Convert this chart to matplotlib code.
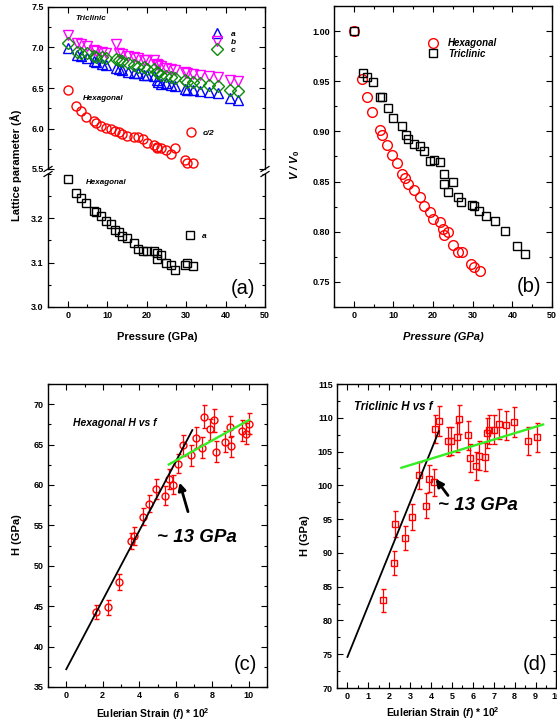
import matplotlib
matplotlib.use('Agg')
import matplotlib.pyplot as plt
from matplotlib.ticker import MultipleLocator
from matplotlib.lines import Line2D

plt.rcParams['font.family'] = ['Liberation Sans', 'DejaVu Sans']
plt.rcParams['font.weight'] = 'bold'
plt.rcParams['mathtext.fontset'] = 'custom'
plt.rcParams['mathtext.rm'] = 'Liberation Sans:bold'
plt.rcParams['mathtext.it'] = 'Liberation Sans:italic:bold'
plt.rcParams['mathtext.bf'] = 'Liberation Sans:bold'

# ---------------- data ----------------
# Triclinic (panel a, b)
tri_P = [0, 2.26, 3.44, 4.87, 6.54, 7.21, 8.64, 9.81, 12.16, 13.08, 13.76, 15.18, 16.78, 17.79,
         19.3, 20.13, 21.8, 22.65, 22.8, 23.65, 25.0, 26.25, 27.1, 29.8, 30.3, 31.7, 33.4, 35.7,
         38.1, 41.2, 43.2]
tri_a = [6.99, 6.91, 6.89, 6.87, 6.83, 6.82, 6.80, 6.78, 6.75, 6.73, 6.72, 6.70, 6.68, 6.68,
         6.66, 6.66, 6.65, 6.60, 6.57, 6.55, 6.56, 6.54, 6.52, 6.49, 6.48, 6.47, 6.46, 6.45,
         6.44, 6.38, 6.35]
tri_b = [7.15, 7.05, 7.04, 7.02, 6.97, 6.96, 6.95, 6.93, 7.04, 6.93, 6.92, 6.90, 6.88, 6.87,
         6.85, 6.84, 6.84, 6.80, 6.78, 6.77, 6.75, 6.73, 6.72, 6.70, 6.68, 6.67, 6.66, 6.65,
         6.63, 6.60, 6.59]
tri_c = [7.05, 6.95, 6.93, 6.93, 6.90, 6.88, 6.88, 6.87, 6.86, 6.85, 6.83, 6.81, 6.78, 6.76,
         6.76, 6.74, 6.73, 6.70, 6.68, 6.66, 6.65, 6.64, 6.62, 6.60, 6.58, 6.57, 6.56, 6.54,
         6.52, 6.48, 6.46]
tri_V = [1.000, 0.958, 0.9545, 0.949, 0.934, 0.934, 0.923, 0.9136, 0.9054, 0.896, 0.892, 0.8875,
         0.885, 0.880, 0.8705, 0.872, 0.8695, 0.858, 0.8476, 0.840, 0.850, 0.8347, 0.830, 0.8267,
         0.826, 0.8204, 0.8154, 0.8108, 0.801, 0.786, 0.7775]

# Hexagonal (panel a, b)
hex_P = [0, 2.18, 3.36, 4.7, 6.54, 7.21, 8.47, 9.73, 10.9, 12.08, 12.9, 13.67, 15.1, 16.7, 17.7,
         19.2, 20.04, 21.8, 22.5, 22.65, 23.75, 25.0, 26.2, 27.2, 29.6, 30.3, 31.8]
hex_c2 = [6.478, 6.272, 6.21, 6.148, 6.09, 6.07, 6.028, 6.004, 5.99, 5.967, 5.955, 5.938, 5.91,
          5.897, 5.897, 5.872, 5.815, 5.80, 5.77, 5.765, 5.76, 5.73, 5.69, 5.757, 5.61, 5.57, 5.57]
hex_a = [3.289, 3.258, 3.245, 3.234, 3.217, 3.2135, 3.2045, 3.1947, 3.188, 3.173, 3.169, 3.161,
         3.1556, 3.145, 3.130, 3.127, 3.127, 3.127, 3.121, 3.108, 3.117, 3.0985, 3.0955, 3.083,
         3.095, 3.0985, 3.093]
hex_V = [1.000, 0.9518, 0.9346, 0.919, 0.9017, 0.8967, 0.886, 0.8768, 0.869, 0.858, 0.8533, 0.8476,
         0.8416, 0.8347, 0.8254, 0.820, 0.813, 0.810, 0.803, 0.797, 0.7995, 0.787, 0.780, 0.780,
         0.7676, 0.765, 0.761]

# Panel c: hexagonal H vs f
c_f = [1.64, 2.3, 2.89, 3.53, 3.73, 4.19, 4.56, 4.91, 5.42, 5.62, 5.84, 6.12, 6.38, 6.84, 7.1,
       7.43, 7.54, 7.87, 8.09, 8.2, 8.7, 8.97, 9.0, 9.65, 9.83, 10.02]
c_H = [44.28, 44.85, 48.0, 53.1, 53.7, 56.1, 57.7, 59.5, 58.7, 60.75, 60.05, 62.66, 64.94, 63.7,
       65.86, 64.6, 68.47, 66.9, 68.0, 64.1, 65.36, 67.2, 64.8, 66.7, 66.35, 67.6]
c_err = [0.9, 0.9, 1.0, 1.0, 1.1, 1.1, 1.1, 1.2, 1.2, 1.2, 1.2, 1.2, 1.3, 1.3, 1.3, 1.3, 1.4,
         1.3, 1.4, 1.3, 1.3, 1.3, 1.3, 1.3, 1.3, 1.3]
c_fit1_x = [0, 6.91]
c_fit1_y = [37.2, 66.8]
c_fit2_x = [5.62, 10.02]
c_fit2_y = [62.54, 68.05]
c_arrow_tail = (6.67, 56.7)
c_arrow_tip = (6.21, 60.3)

# Panel d: triclinic H vs f
d_f = [1.70, 2.25, 2.28, 2.73, 3.11, 3.40, 3.78, 3.88, 4.13, 4.21, 4.40, 4.81, 4.96, 5.24, 5.33,
       5.77, 5.84, 6.15, 6.30, 6.57, 6.68, 6.76, 7.00, 7.25, 7.59, 7.99, 8.64, 9.06]
d_H = [83.0, 88.5, 94.3, 92.2, 95.3, 101.5, 97.0, 101.0, 100.45, 108.3, 109.55, 106.5, 106.6,
       107.1, 109.75, 107.4, 104.0, 102.9, 104.4, 104.2, 107.8, 108.26, 108.26, 109.05, 108.86,
       109.4, 106.53, 107.1]
d_err = [1.7, 1.8, 1.9, 1.8, 1.9, 2.0, 1.9, 2.0, 2.0, 2.1, 2.2, 2.1, 2.1, 2.1, 2.2, 2.1, 2.1, 2.1,
         2.1, 2.1, 2.2, 2.2, 2.2, 2.2, 2.2, 2.2, 2.1, 2.1]
d_fit1_x = [0, 4.37]
d_fit1_y = [74.6, 108.0]
d_fit2_x = [2.58, 9.36]
d_fit2_y = [102.6, 109.0]
d_arrow_tail = (4.81, 98.5)
d_arrow_tip = (4.22, 100.95)

# ---------------- figure ----------------
W, H = 557, 724
fig = plt.figure(figsize=(W / 100, H / 100), dpi=100)


def rect(l, t, r, b):
    return [l / W, 1 - b / H, (r - l) / W, (b - t) / H]


def fp(x, y):
    return (x / W, 1 - y / H)


def style(ax, top=True, bottom=True):
    for s in ax.spines.values():
        s.set_linewidth(1.0)
    ax.tick_params(which='both', direction='in', top=top, bottom=bottom, right=True,
                   labelsize=6.5, width=0.8, pad=3)
    ax.tick_params(which='major', length=4)
    ax.tick_params(which='minor', length=2)


BLUE = '#0000ff'
MAG = '#ff00ff'
GRN = '#0a8c0a'
RED = '#ff0000'

# ---- panel (a) ----
axT = fig.add_axes(rect(48, 7, 265, 169))
axL = fig.add_axes(rect(48, 174, 265, 307))
mk = dict(linestyle='none', mfc='none', mew=1.0)
la, = axT.plot(tri_P, tri_a, marker='^', mec=BLUE, ms=7.5, **mk)
lb, = axT.plot(tri_P, tri_b, marker='v', mec=MAG, ms=7.5, **mk)
lc, = axT.plot(tri_P, tri_c, marker='D', mec=GRN, ms=6, **mk)
lh, = axT.plot(hex_P, hex_c2, marker='o', mec=RED, ms=6.5, **mk)
lha, = axL.plot(hex_P, hex_a, marker='s', mec='k', ms=6, **mk)

axT.set_xlim(-5, 50)
axT.set_ylim(5.5, 7.5)
axL.set_xlim(-5, 50)
axL.set_ylim(3.0, 3.30)
axT.yaxis.set_major_locator(MultipleLocator(0.5))
axT.yaxis.set_minor_locator(MultipleLocator(0.25))
axT.yaxis.set_major_formatter(plt.FormatStrFormatter('%.1f'))
axL.yaxis.set_major_locator(MultipleLocator(0.1))
axL.yaxis.set_minor_locator(MultipleLocator(0.05))
axL.yaxis.set_major_formatter(plt.FormatStrFormatter('%.1f'))
for ax in (axT, axL):
    ax.xaxis.set_major_locator(MultipleLocator(10))
    ax.xaxis.set_minor_locator(MultipleLocator(5))
style(axT, top=True, bottom=False)
style(axL, top=False, bottom=True)
axT.tick_params(labelbottom=False)
axT.spines['bottom'].set_visible(False)
axL.spines['top'].set_visible(False)
axL.set_yticks([3.0, 3.1, 3.2])

# break marks
for bx in (48, 265):
    for by in (169, 174):
        fig.add_artist(Line2D([(bx - 4) / W, (bx + 4) / W], [1 - (by + 2.5) / H, 1 - (by - 2.5) / H],
                              transform=fig.transFigure, color='k', lw=0.9))

leg_kw = dict(frameon=False, borderpad=0, borderaxespad=0, handlelength=1.0,
              bbox_transform=fig.transFigure, loc='center left')
legA = axT.legend([la, lb, lc], ['a', 'b', 'c'], bbox_to_anchor=fp(212.8, 42),
                  prop=dict(size=6, style='italic', weight='bold'), handletextpad=1.2,
                  labelspacing=0.05, **leg_kw)
axT.add_artist(legA)
axT.legend([lh], ['c/2'], bbox_to_anchor=fp(186.8, 133),
           prop=dict(size=6, style='italic', weight='bold'), handletextpad=0.95, **leg_kw)
axL.legend([lha], ['a'], bbox_to_anchor=fp(185.8, 236),
           prop=dict(size=6, style='italic', weight='bold'), handletextpad=0.95, **leg_kw)

fig.text(*fp(75, 19), 'Triclinic', fontsize=5.8, style='italic', va='center')
fig.text(*fp(83, 98), 'Hexagonal', fontsize=5.8, style='italic', va='center')
fig.text(*fp(86, 182), 'Hexagonal', fontsize=5.8, style='italic', va='center')
fig.text(*fp(16, 165), 'Lattice parameter (Å)', rotation=90, ha='center', va='center', fontsize=8)
fig.text(*fp(157, 337), 'Pressure (GPa)', ha='center', va='center', fontsize=8)
fig.text(*fp(242.5, 288), '(a)', fontsize=14.5, weight='normal', ha='center', va='center')

# ---- panel (b) ----
axB = fig.add_axes(rect(334, 6, 552, 307))
lbh, = axB.plot(hex_P, hex_V, marker='o', mec=RED, ms=7, **mk)
lbt, = axB.plot(tri_P, tri_V, marker='s', mec='k', ms=5.5, **mk)
axB.set_xlim(-5, 50)
axB.set_ylim(0.725, 1.025)
axB.xaxis.set_major_locator(MultipleLocator(10))
axB.xaxis.set_minor_locator(MultipleLocator(5))
axB.yaxis.set_major_locator(MultipleLocator(0.05))
axB.yaxis.set_minor_locator(MultipleLocator(0.025))
axB.yaxis.set_major_formatter(plt.FormatStrFormatter('%.2f'))
style(axB)
axB.legend([lbh, lbt], ['Hexagonal', 'Triclinic'], bbox_to_anchor=fp(428.4, 48.4),
           prop=dict(size=7, style='italic', weight='bold'), handletextpad=1.0,
           labelspacing=0.05, **leg_kw)
fig.text(*fp(295, 165), r'V / V$_{\it{0}}$', rotation=90, style='italic', ha='center', va='center',
         fontsize=8)
fig.text(*fp(443, 337), 'Pressure (GPa)', style='italic', ha='center', va='center', fontsize=8)
fig.text(*fp(528.5, 287), '(b)', fontsize=14.5, weight='normal', ha='center', va='center')

# ---- panel (c) ----
axC = fig.add_axes(rect(48, 384, 267, 687))
axC.errorbar(c_f, c_H, yerr=c_err, fmt='o', mfc='none', mec=RED, ms=5, mew=1.0,
             ecolor=RED, elinewidth=0.9, capsize=1.8, capthick=0.9, zorder=2)
axC.plot(c_fit1_x, c_fit1_y, color='k', lw=1.3, zorder=3)
axC.plot(c_fit2_x, c_fit2_y, color='#33ee22', lw=1.7, zorder=3)
axC.annotate('', xy=c_arrow_tip, xytext=c_arrow_tail,
             arrowprops=dict(arrowstyle='-|>', color='k', lw=2.0, mutation_scale=11,
                             shrinkA=0, shrinkB=0))
axC.set_xlim(-1, 11)
axC.set_ylim(35, 72.5)
axC.xaxis.set_major_locator(MultipleLocator(2))
axC.xaxis.set_minor_locator(MultipleLocator(1))
axC.yaxis.set_major_locator(MultipleLocator(5))
axC.yaxis.set_minor_locator(MultipleLocator(2.5))
style(axC)
fig.text(*fp(73, 423), 'Hexagonal H vs f', fontsize=7.5, style='italic', va='center')
fig.text(*fp(157, 537), '~ 13 GPa', fontsize=13.5, style='italic', va='center')
fig.text(*fp(17, 535), 'H (GPa)', rotation=90, ha='center', va='center', fontsize=8)
fig.text(*fp(152.5, 714), r'Eulerian Strain ($\it{f}$) * 10$^{2}$', ha='center', va='center',
         fontsize=7.5)
fig.text(*fp(245, 665), '(c)', fontsize=14.5, weight='normal', ha='center', va='center')

# ---- panel (d) ----
axD = fig.add_axes(rect(337, 384, 556.5, 688))
axD.errorbar(d_f, d_H, yerr=d_err, fmt='s', mfc='none', mec=RED, ms=4.8, mew=1.0,
             ecolor=RED, elinewidth=0.9, capsize=1.8, capthick=0.9, zorder=2)
axD.plot(d_fit1_x, d_fit1_y, color='k', lw=1.3, zorder=3)
axD.plot(d_fit2_x, d_fit2_y, color='#33ee22', lw=1.7, zorder=3)
axD.annotate('', xy=d_arrow_tip, xytext=d_arrow_tail,
             arrowprops=dict(arrowstyle='-|>', color='k', lw=2.0, mutation_scale=11,
                             shrinkA=0, shrinkB=0))
axD.set_xlim(-0.5, 10)
axD.set_ylim(70, 115)
axD.xaxis.set_major_locator(MultipleLocator(1))
axD.xaxis.set_minor_locator(MultipleLocator(0.5))
axD.yaxis.set_major_locator(MultipleLocator(5))
axD.yaxis.set_minor_locator(MultipleLocator(2.5))
style(axD)
fig.text(*fp(354, 407), 'Triclinic H vs f', fontsize=8.3, style='italic', va='center')
fig.text(*fp(438, 505), '~ 13 GPa', fontsize=13.5, style='italic', va='center')
fig.text(*fp(305, 536), 'H (GPa)', rotation=90, ha='center', va='center', fontsize=8)
fig.text(*fp(443, 713), r'Eulerian Strain ($\it{f}$) * 10$^{2}$', ha='center', va='center',
         fontsize=7.5)
fig.text(*fp(534.7, 665), '(d)', fontsize=14.5, weight='normal', ha='center', va='center')

fig.savefig('out.png', dpi=100)
